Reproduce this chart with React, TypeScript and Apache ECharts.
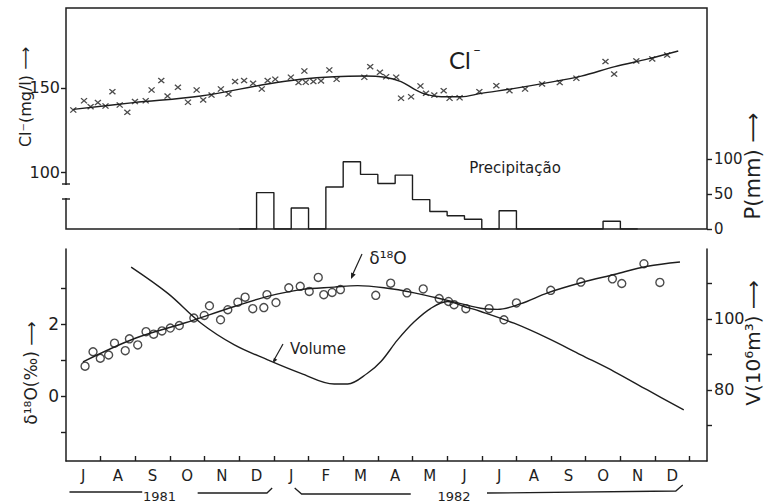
import React, { useEffect, useRef } from "react";
import * as echarts from "echarts";

// ---------- data (time axis: months since 1 July 1981) ----------
const monthLabels = ["J", "A", "S", "O", "N", "D", "J", "F", "M", "A", "M", "J", "J", "A", "S", "O", "N", "D"];
const monthLabelPos = [0.5, 1.5, 2.5, 3.5, 4.5, 5.5, 6.5, 7.5, 8.5, 9.5, 10.5, 11.5, 12.5, 13.5, 14.5, 15.5, 16.5, 17.5];
const monthTickPos = [1, 2, 3, 4, 5, 6, 7, 8, 9, 10, 11, 12, 13, 14, 15, 16, 17, 18];

const clTicks = [100, 150];
const pTicks = [0, 50, 100];
const d18Ticks = [-1, 0, 1, 2, 3];
const d18Labels = [0, 2];
const volTicks = [70, 80, 90, 100, 110];
const volLabels = [80, 100];

// Cl- measurements (crosses)
const clT = [0.21, 0.52, 0.71, 0.92, 1.14, 1.34, 1.55, 1.77, 1.99, 2.3, 2.47, 2.75, 2.93, 3.23, 3.52, 3.77, 3.96, 4.2, 4.47, 4.69, 4.88, 5.14, 5.4, 5.65, 5.82, 6.04, 6.49, 6.71, 6.88, 6.92, 7.14, 7.36, 7.6, 7.81, 8.61, 8.78, 9.06, 9.24, 9.53, 9.67, 9.96, 10.23, 10.39, 10.63, 10.9, 11.07, 11.36, 11.93, 12.42, 12.8, 13.25, 13.74, 14.25, 14.73, 15.57, 15.82, 16.46, 16.92, 17.35];
const clV = [136.9, 142.4, 138.9, 141.3, 139.3, 147.8, 139.9, 135.5, 141.9, 142.4, 148.8, 154.4, 145.2, 150.4, 141.5, 148.8, 142.9, 145.8, 149.4, 146.4, 153.8, 154.4, 152.8, 149.4, 154.4, 155.2, 156.4, 153.2, 160.1, 153.4, 153.8, 154.2, 160.7, 155.2, 156.4, 162.7, 159.3, 156.7, 156.4, 143.9, 144.8, 151.2, 146.8, 145.8, 148.4, 143.9, 144.2, 147.8, 151.4, 148.4, 149.4, 152.4, 153.2, 155.8, 165.7, 158.3, 166.1, 167.3, 169.6];
// Cl- fitted curve
const clCurveT = [0.21, 1.95, 3.89, 5.82, 6.78, 7.74, 8.61, 9.2, 9.67, 10.06, 10.39, 10.83, 11.4, 11.98, 12.95, 13.91, 14.87, 15.84, 16.8, 17.67];
const clCurveV = [137.3, 141.3, 145.2, 152.4, 155.2, 156.7, 157.1, 156.4, 153.8, 149.2, 146.2, 144.8, 144.8, 146.8, 149.8, 153.2, 157.1, 162.7, 167.3, 172.0];

// Precipitation, half-month bins starting at t = 5.0
const precipStart = 5.0;
const precipBin = 0.5;
const precipV = [0, 52, 0, 30, 0, 60, 96, 78, 65, 77, 42, 25, 19, 14, 0, 26, 0, 0, 0, 0, 0, 11, 0];

// delta 18O measurements (circles)
const d18T = [0.55, 0.78, 0.99, 1.23, 1.4, 1.71, 1.83, 2.07, 2.31, 2.53, 2.77, 3.01, 3.27, 3.69, 3.99, 4.14, 4.46, 4.67, 4.96, 5.17, 5.39, 5.71, 5.8, 6.06, 6.43, 6.76, 7.02, 7.28, 7.44, 7.68, 7.92, 8.94, 9.37, 9.84, 10.31, 10.77, 11.04, 11.2, 11.54, 12.21, 12.64, 13.0, 13.99, 14.86, 15.77, 16.04, 16.68, 17.14];
const d18V = [0.84, 1.24, 1.06, 1.15, 1.48, 1.27, 1.6, 1.43, 1.8, 1.73, 1.82, 1.9, 1.97, 2.18, 2.25, 2.52, 2.13, 2.41, 2.62, 2.76, 2.44, 2.47, 2.83, 2.61, 3.02, 3.06, 2.92, 3.31, 2.83, 2.89, 2.97, 2.81, 3.15, 2.88, 2.99, 2.72, 2.64, 2.55, 2.44, 2.44, 2.13, 2.6, 2.95, 3.18, 3.27, 3.14, 3.69, 3.17];
// delta 18O fitted curve
const d18CurveT = [0.49, 1.98, 3.42, 4.86, 5.82, 6.78, 7.74, 8.42, 9.18, 10.05, 11.01, 11.97, 12.45, 13.13, 13.9, 14.86, 15.82, 16.78, 17.72];
const d18CurveV = [0.96, 1.61, 2.04, 2.5, 2.78, 2.97, 3.04, 3.08, 3.02, 2.88, 2.67, 2.45, 2.42, 2.58, 2.88, 3.16, 3.39, 3.62, 3.74];

// Reservoir volume (10^6 m3)
const volT = [1.88, 2.94, 3.9, 4.86, 5.82, 6.78, 7.74, 8.13, 8.7, 9.09, 9.57, 10.05, 10.53, 11.01, 11.49, 11.97, 12.93, 13.9, 14.86, 15.82, 16.78, 17.83];
const volV = [114.6, 107.2, 98.8, 92.7, 88.5, 84.7, 81.7, 81.7, 84.7, 88.0, 94.1, 99.2, 103.0, 104.9, 103.5, 102.1, 98.8, 94.6, 89.9, 85.2, 80.0, 74.4];

// ---------- layout ----------
const INK = "#1e1e1e";
const FONT = "'DejaVu Sans', sans-serif";
const GL = 66;
const GW = 641;
const X_MAX = 18.5;
const TOP = { top: 8, height: 221 };
const BOT = { top: 249, height: 212 };

const xPix = (t: number) => GL + (t / X_MAX) * GW;

const pairs = (a: number[], b: number[]) => a.map((v, i) => [v, b[i]]);

const X_SYMBOL = "path://M0,1.4L1.4,0L5,3.6L8.6,0L10,1.4L6.4,5L10,8.6L8.6,10L5,6.4L1.4,10L0,8.6L3.6,5Z";

function buildOption(): any {
  const precipData = precipV.map((v, i) => [precipStart + i * precipBin, v]);
  precipData.push([precipStart + precipV.length * precipBin, 0]);

  const labelBase = { color: INK, fontFamily: FONT };
  const txt = (text: string, x: number, y: number, size: number, extra: any = {}) => ({
    type: "text",
    x,
    y,
    z: 100,
    rotation: extra.rotation || 0,
    style: {
      text,
      fill: INK,
      fontSize: size,
      fontFamily: extra.fontFamily || FONT,
      fontWeight: extra.fontWeight || "normal",
      align: extra.align || "center",
      verticalAlign: extra.valign || "middle",
      textAlign: extra.align || "center",
      textVerticalAlign: extra.valign || "middle",
    },
  });
  const poly = (pts: number[][], w = 1.3) => ({
    type: "polyline",
    z: 100,
    shape: { points: pts },
    style: { stroke: INK, lineWidth: w, fill: "none" },
  });

  const yBreakTop = 184;
  const yBreakBot = 199;
  const smoothLine = { smooth: 0.35, showSymbol: false, lineStyle: { color: INK, width: 1.4 } };

  return {
    animation: false,
    backgroundColor: "#ffffff",
    grid: [
      { left: GL, width: GW, top: TOP.top, height: TOP.height, show: true, borderColor: INK, borderWidth: 1.5, backgroundColor: "transparent" },
      { left: GL, width: GW, top: BOT.top, height: BOT.height, show: false },
    ],
    xAxis: [
      {
        gridIndex: 0, type: "value", min: 0, max: X_MAX,
        axisLine: { show: false }, axisTick: { show: false }, axisLabel: { show: false }, splitLine: { show: false },
      },
      {
        gridIndex: 1, type: "value", min: 0, max: X_MAX,
        axisLine: { show: true, onZero: false, lineStyle: { color: INK, width: 1.5 } },
        axisTick: { show: true, inside: true, length: 5, customValues: monthTickPos, lineStyle: { color: INK, width: 1.4 } },
        axisLabel: {
          ...labelBase, fontSize: 15, margin: 7, lineHeight: 16, customValues: monthLabelPos,
          formatter: (v: number) => monthLabels[Math.round(v - 0.5)] || "",
        },
        splitLine: { show: false },
      },
    ],
    yAxis: [
      {
        gridIndex: 0, type: "value", position: "left", min: 66.1, max: 197.6,
        axisLine: { show: false },
        axisTick: { show: true, length: 5, customValues: clTicks, lineStyle: { color: INK, width: 1.4 } },
        axisLabel: { ...labelBase, fontSize: 16, margin: 6, customValues: clTicks },
        splitLine: { show: false },
      },
      {
        gridIndex: 0, type: "value", position: "right", min: 0, max: 315.7,
        axisLine: { show: false },
        axisTick: { show: true, length: 5, customValues: pTicks, lineStyle: { color: INK, width: 1.4 } },
        axisLabel: { ...labelBase, fontSize: 15, margin: 7, customValues: pTicks },
        splitLine: { show: false },
      },
      {
        gridIndex: 1, type: "value", position: "left", min: -1.8, max: 4.1,
        axisLine: { show: true, onZero: false, lineStyle: { color: INK, width: 1.5 } },
        axisTick: { show: true, length: 5, customValues: d18Ticks, lineStyle: { color: INK, width: 1.4 } },
        axisLabel: { ...labelBase, fontSize: 17, margin: 7, customValues: d18Labels },
        splitLine: { show: false },
      },
      {
        gridIndex: 1, type: "value", position: "right", min: 60.0, max: 119.7,
        axisLine: { show: true, onZero: false, lineStyle: { color: INK, width: 1.5 } },
        axisTick: { show: true, length: 5, customValues: volTicks, lineStyle: { color: INK, width: 1.4 } },
        axisLabel: { ...labelBase, fontSize: 16, margin: 7, customValues: volLabels },
        splitLine: { show: false },
      },
    ],
    series: [
      { name: "Cl curve", type: "line", xAxisIndex: 0, yAxisIndex: 0, data: pairs(clCurveT, clCurveV), ...smoothLine },
      {
        name: "Cl", type: "scatter", xAxisIndex: 0, yAxisIndex: 0,
        data: pairs(clT, clV), symbol: X_SYMBOL, symbolSize: [7, 6],
        itemStyle: { color: INK },
      },
      {
        name: "Precipitação", type: "line", xAxisIndex: 0, yAxisIndex: 1,
        data: precipData, step: "end", showSymbol: false,
        lineStyle: { color: INK, width: 1.4 },
      },
      { name: "d18O curve", type: "line", xAxisIndex: 1, yAxisIndex: 2, data: pairs(d18CurveT, d18CurveV), ...smoothLine },
      {
        name: "d18O", type: "scatter", xAxisIndex: 1, yAxisIndex: 2,
        data: pairs(d18T, d18V), symbol: "circle", symbolSize: 8,
        itemStyle: { color: "transparent", borderColor: INK, borderWidth: 1.4 },
      },
      { name: "Volume", type: "line", xAxisIndex: 1, yAxisIndex: 3, data: pairs(volT, volV), ...smoothLine },
    ],
    graphic: [
      // break in the left axis of the upper panel
      { type: "rect", z: 99, shape: { x: GL - 4, y: yBreakTop + 1, width: 8, height: yBreakBot - yBreakTop - 2 }, style: { fill: "#ffffff" } },
      poly([[GL - 4, yBreakTop], [GL + 4, yBreakTop]], 1.4),
      poly([[GL - 4, yBreakBot], [GL + 4, yBreakBot]], 1.4),
      // in-plot labels
      txt("Cl", 449, 59, 24, { align: "left", fontFamily: "Lato, 'DejaVu Sans', sans-serif" }),
      txt("−", 477, 50, 13, { fontFamily: "Lato, 'DejaVu Sans', sans-serif" }),
      txt("Precipitação", 515, 168, 15),
      txt("δ¹⁸O", 388, 258, 17, {}),
      poly([[362, 254], [351.5, 277]], 1.2),
      { type: "polygon", z: 100, shape: { points: [[351, 279], [355.7, 274.5], [351.1, 272.5]] }, style: { fill: INK } },
      txt("Volume", 318, 349, 15),
      poly([[283, 344], [273.5, 361]], 1.2),
      { type: "polygon", z: 100, shape: { points: [[273, 363], [277.3, 359.7], [273.9, 357.7]] }, style: { fill: INK } },
      // axis titles
      txt("Cl⁻(mg/l) ⟶", 25, 97, 16, { rotation: Math.PI / 2 }),
      txt("P(mm) ⟶", 753, 166, 21, { rotation: Math.PI / 2 }),
      txt("δ¹⁸O(‰) ⟶", 31, 373, 17, { rotation: Math.PI / 2 }),
      txt("V(10⁶m³) ⟶", 753, 343, 20, { rotation: Math.PI / 2 }),
      // year brackets
      poly([[xPix(0.1), 492], [xPix(2.2), 492]]),
      txt("1981", xPix(2.7), 503, 13, { valign: "bottom" }),
      poly([[xPix(3.8), 493], [xPix(5.8), 493], [xPix(5.95), 488]]),
      poly([[xPix(6.6), 488], [xPix(6.8), 494], [xPix(9.95), 494]]),
      txt("1982", xPix(11.2), 503, 13, { valign: "bottom" }),
      poly([[xPix(12.15), 493], [xPix(17.6), 491], [xPix(17.8), 485]]),
    ],
  };
}

export default function App() {
  const ref = useRef<HTMLDivElement>(null);
  useEffect(() => {
    const el = ref.current;
    if (!el) return;
    const chart = echarts.init(el, null, { renderer: "svg" });
    chart.setOption(buildOption());
    return () => chart.dispose();
  }, []);
  return (
    <div
      ref={ref}
      style={{ position: "fixed", left: 0, top: 0, width: 767, height: 503, background: "#ffffff" }}
    />
  );
}
